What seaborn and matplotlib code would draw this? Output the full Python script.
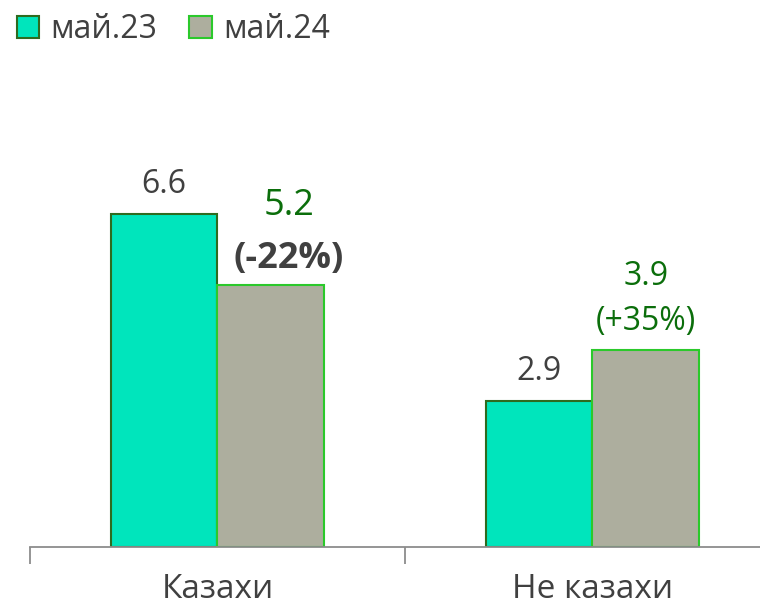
import pandas as pd
import matplotlib.pyplot as plt
import seaborn as sns
from matplotlib.patches import Patch

# ---- data ----
categories = ["Казахи", "Не казахи"]
periods = ["май.23", "май.24"]
may23 = [6.6, 2.9]
may24 = [5.2, 3.9]
change = ["(-22%)", "(+35%)"]

df = pd.DataFrame({
    "group": categories * 2,
    "period": [periods[0]] * 2 + [periods[1]] * 2,
    "value": may23 + may24,
})

# ---- style ----
sns.set_style("white")
plt.rcParams["font.family"] = ["Open Sans", "DejaVu Sans"]

face = {"май.23": "#00E5BC", "май.24": "#ADAE9E"}
edge = {"май.23": "#2E6B1F", "май.24": "#2BC92B"}
dark = "#404040"
green = "#0B6E0B"

fig = plt.figure(figsize=(7.6, 6.09), dpi=100)
ax = fig.add_axes([30 / 760, 62 / 609, 750 / 760, 504.5 / 609])

sns.barplot(data=df, x="group", y="value", hue="period", order=categories,
            hue_order=periods, palette=face, width=0.57, saturation=1,
            linewidth=1.5, ax=ax, legend=False)

# edge colours per series (first two patches = май.23, next two = май.24)
bars = ax.patches
for i, p in enumerate(bars):
    p.set_edgecolor(edge[periods[i // 2]])

ax.set_xlim(-0.5, 1.5)
ax.set_ylim(0, 10)
ax.set_xlabel("")
ax.set_ylabel("")
ax.set_yticks([])

for s in ["top", "right", "left"]:
    ax.spines[s].set_visible(False)
ax.spines["bottom"].set_color("#8C8C8C")
ax.spines["bottom"].set_linewidth(1.3)

ax.set_xticks([0, 1])
ax.set_xticklabels(categories, fontsize=24, color=dark)
ax.tick_params(axis="x", which="major", bottom=False, length=0, pad=19)
ax.set_xticks([-0.5, 0.5, 1.5], minor=True)
ax.tick_params(axis="x", which="minor", bottom=True, length=12, width=1.3,
               color="#8C8C8C")

# ---- value labels ----
def put(bar, text, dy_px, dx_px=0, **kw):
    x = bar.get_x() + bar.get_width() / 2
    ax.annotate(text, (x, bar.get_height()), xytext=(dx_px * 0.72, dy_px * 0.72),
                textcoords="offset points", ha="center", va="baseline", **kw)

put(bars[0], f"{may23[0]:.1f}", 21, fontsize=23, color=dark)
put(bars[1], f"{may23[1]:.1f}", 21, fontsize=23, color=dark)
put(bars[2], f"{may24[0]:.1f}", 70, 18, fontsize=26, color=green)
put(bars[2], change[0], 17, 18, fontsize=26, color=dark, fontweight="bold")
put(bars[3], f"{may24[1]:.1f}", 65, fontsize=23, color=green)
put(bars[3], change[1], 20, fontsize=23, color=green)

# ---- legend ----
handles = [Patch(facecolor=face[p], edgecolor=edge[p], linewidth=1.5) for p in periods]
fig.legend(handles, periods, loc="upper left", bbox_to_anchor=(9 / 760, 1 - 5 / 609),
           ncol=2, frameon=False, fontsize=23, handlelength=0.7, handleheight=0.7,
           handletextpad=0.35, columnspacing=1.0, borderaxespad=0.0,
           borderpad=0.25, labelcolor=dark)

fig.savefig("out.png", dpi=100)
